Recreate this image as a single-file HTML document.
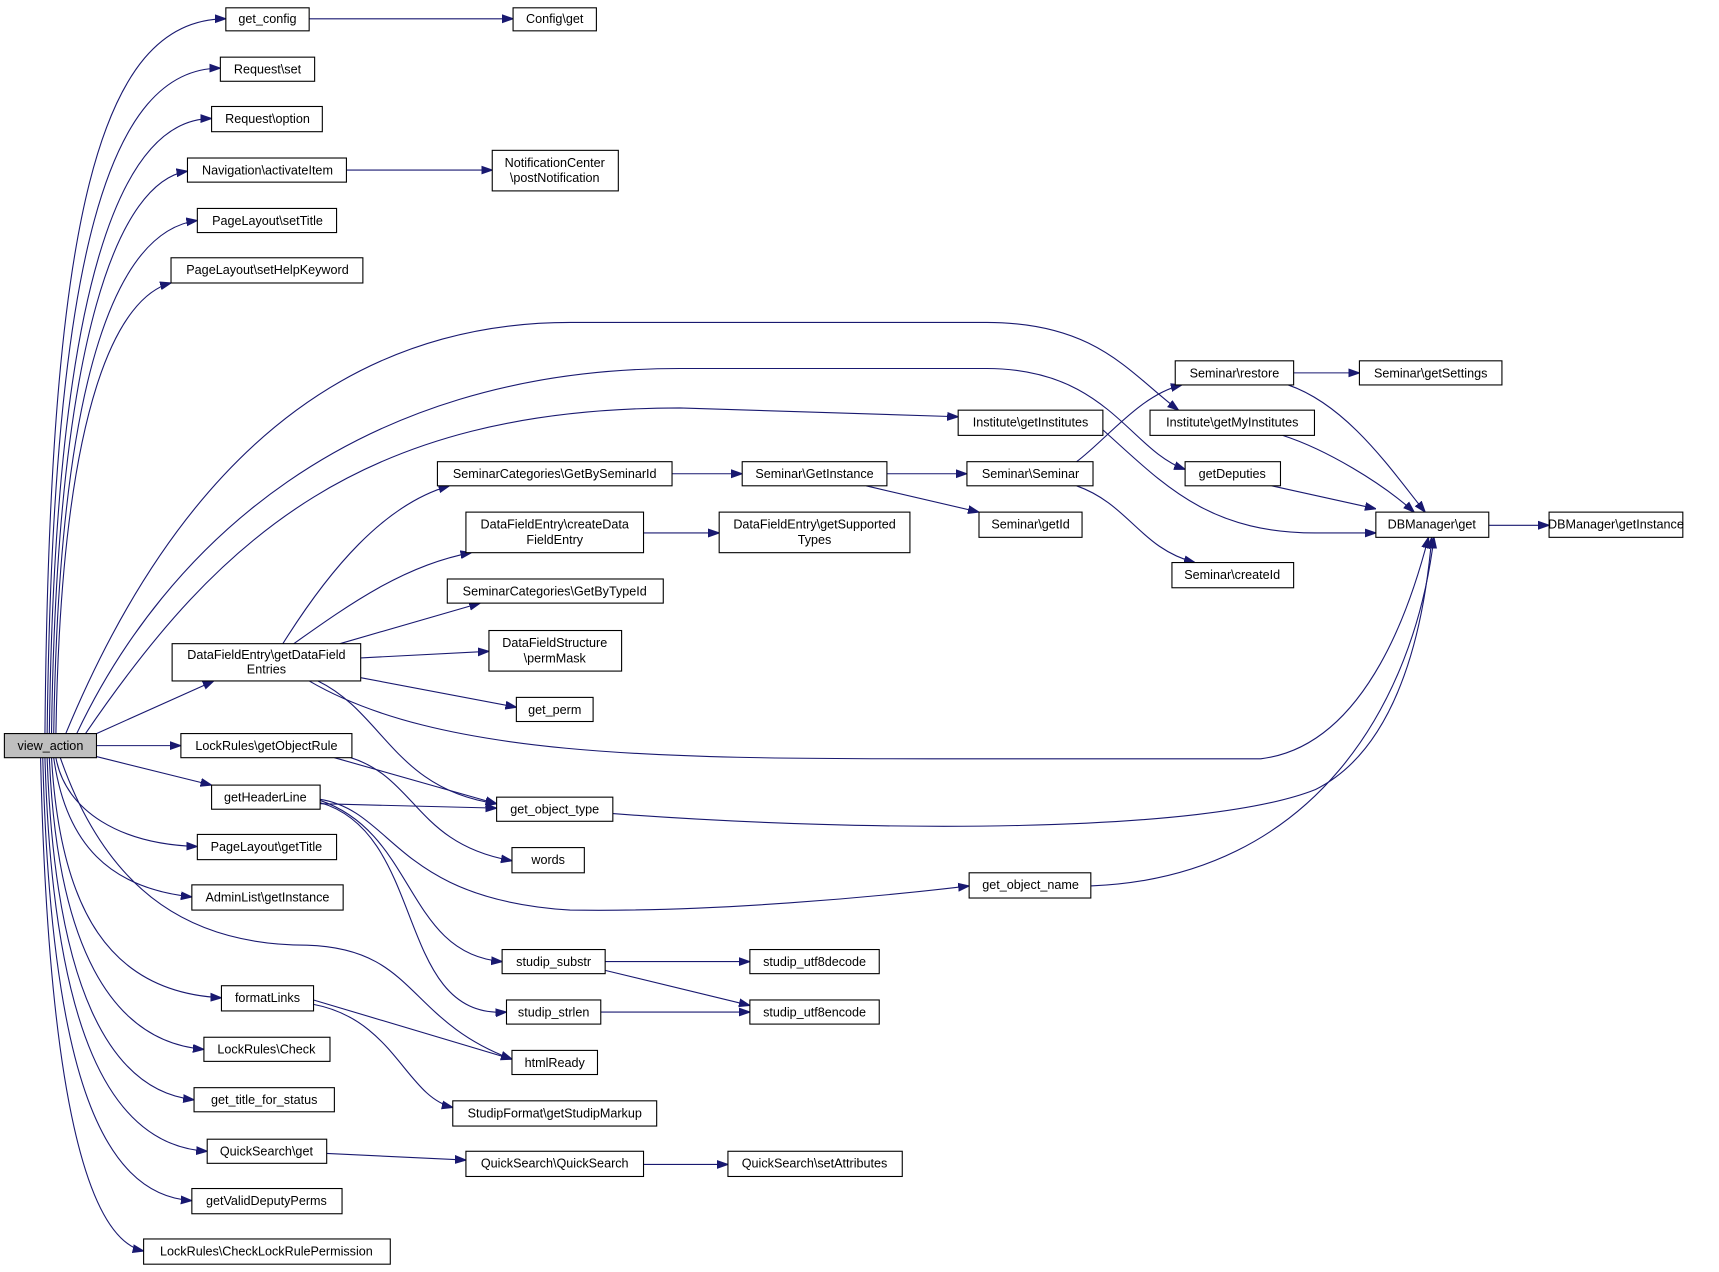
<!DOCTYPE html>
<html><head><meta charset="utf-8"><style>
html,body{margin:0;padding:0;background:#fff;}
svg{display:block;}
text{font-family:"Liberation Sans",sans-serif;font-size:11.5px;fill:#000;}
.n{fill:#fff;stroke:#000;stroke-width:1;}
.e{fill:none;stroke:#191970;stroke-width:1;marker-end:url(#a);}
</style></head><body>
<svg width="1719" height="1272" viewBox="0 0 1568 1160" xmlns="http://www.w3.org/2000/svg">
<defs><marker id="a" viewBox="0 0 10 10" refX="10" refY="5" markerWidth="10" markerHeight="10" markerUnits="userSpaceOnUse" orient="auto"><path d="M0,1.5 L10,5 L0,8.5 z" fill="#191970" stroke="#191970"/></marker></defs>
<g>
<path class="e" d="M41,669 C45,200 90,17 206,17"/>
<path class="e" d="M43,669 C48,230 100,62 201,62"/>
<path class="e" d="M45,669 C50,260 110,108 193,108"/>
<path class="e" d="M47,669 C52,300 110,165 171,156"/>
<path class="e" d="M49,669 C54,330 110,210 180,201"/>
<path class="e" d="M51,669 C56,360 110,270 156,258"/>
<path class="e" d="M60,669 C130,500 260,294 520,294 L900,294 C1000,294 1030,340 1075,374"/>
<path class="e" d="M70,669 C150,500 320,336 620,336 L900,336 C1010,336 1030,410 1081,428"/>
<path class="e" d="M78,669 C200,490 330,372 620,372 L874,380"/>
<path class="e" d="M88,669 L195,621"/>
<path class="e" d="M88,680 L165,680"/>
<path class="e" d="M88,690 L193,716"/>
<path class="e" d="M51,691 C60,740 110,770 180,772"/>
<path class="e" d="M49,691 C60,770 100,810 175,818"/>
<path class="e" d="M55,691 C100,820 180,862 280,862 C380,865 370,930 467,966"/>
<path class="e" d="M47,691 C55,830 100,905 202,910"/>
<path class="e" d="M45,691 C52,860 100,950 186,957"/>
<path class="e" d="M43,691 C50,900 100,995 177,1003"/>
<path class="e" d="M41,691 C48,940 100,1045 189,1050"/>
<path class="e" d="M39,691 C46,970 90,1090 175,1095"/>
<path class="e" d="M37,691 C44,1000 80,1130 131,1141"/>
<path class="e" d="M282,17 L468,17"/>
<path class="e" d="M316,155 L449,155"/>
<path class="e" d="M258,587 C300,520 350,460 410,443"/>
<path class="e" d="M268,587 C320,550 370,515 430,504"/>
<path class="e" d="M310,587 L438,550"/>
<path class="e" d="M329,600 L446,594"/>
<path class="e" d="M329,618 L471,645"/>
<path class="e" d="M290,621 C350,650 360,720 453,733"/>
<path class="e" d="M282,621 C400,690 600,692 850,692 L1150,692 C1250,680 1290,540 1303,490"/>
<path class="e" d="M305,691 L453,733"/>
<path class="e" d="M320,691 C380,710 380,770 467,785"/>
<path class="e" d="M292,733 L453,737"/>
<path class="e" d="M292,729 C360,740 360,820 520,830 C650,832 800,818 884,808"/>
<path class="e" d="M292,730 C380,760 370,870 458,877"/>
<path class="e" d="M292,732 C390,760 360,930 462,923"/>
<path class="e" d="M559,742 C800,760 1100,760 1200,720 C1280,680 1300,560 1306,490"/>
<path class="e" d="M995,808 C1200,800 1290,640 1308,490"/>
<path class="e" d="M286,912 L467,966"/>
<path class="e" d="M286,916 C360,930 370,1000 413,1010"/>
<path class="e" d="M298,1052 L425,1058"/>
<path class="e" d="M587,1062 L664,1062"/>
<path class="e" d="M613,432 L677,432"/>
<path class="e" d="M809,432 L882,432"/>
<path class="e" d="M790,443 L893,467"/>
<path class="e" d="M982,421 C1010,400 1040,360 1078,351"/>
<path class="e" d="M982,443 C1030,460 1040,500 1090,513"/>
<path class="e" d="M587,486 L656,486"/>
<path class="e" d="M1180,340 L1240,340"/>
<path class="e" d="M1175,351 C1230,370 1270,430 1300,467"/>
<path class="e" d="M1170,397 C1210,410 1260,440 1290,467"/>
<path class="e" d="M1160,443 L1255,464"/>
<path class="e" d="M1006,392 C1060,440 1100,486 1200,486 L1255,486"/>
<path class="e" d="M1358,479 L1413,479"/>
<path class="e" d="M552,885 L684,917"/>
<path class="e" d="M552,877 L684,877"/>
<path class="e" d="M548,923 L684,923"/>
</g>
<g>
<rect x="4" y="669" width="84" height="22" fill="#bfbfbf" stroke="#000"/><text x="46" y="684" text-anchor="middle">view_action</text>
<rect class="n" x="206" y="7" width="76" height="21"/><text x="244" y="21" text-anchor="middle">get_config</text>
<rect class="n" x="468" y="7" width="76" height="21"/><text x="506" y="21" text-anchor="middle">Config\get</text>
<rect class="n" x="201" y="52" width="86" height="22"/><text x="244" y="67" text-anchor="middle">Request\set</text>
<rect class="n" x="193" y="97" width="101" height="23"/><text x="244" y="112" text-anchor="middle">Request\option</text>
<rect class="n" x="171" y="144" width="145" height="22"/><text x="244" y="159" text-anchor="middle">Navigation\activateItem</text>
<rect class="n" x="449" y="137" width="115" height="37"/><text x="506" y="152" text-anchor="middle">NotificationCenter</text><text x="506" y="166" text-anchor="middle">\postNotification</text>
<rect class="n" x="180" y="190" width="127" height="22"/><text x="244" y="205" text-anchor="middle">PageLayout\setTitle</text>
<rect class="n" x="156" y="235" width="175" height="23"/><text x="244" y="250" text-anchor="middle">PageLayout\setHelpKeyword</text>
<rect class="n" x="1072" y="329" width="108" height="22"/><text x="1126" y="344" text-anchor="middle">Seminar\restore</text>
<rect class="n" x="1240" y="329" width="130" height="22"/><text x="1305" y="344" text-anchor="middle">Seminar\getSettings</text>
<rect class="n" x="874" y="374" width="132" height="23"/><text x="940" y="389" text-anchor="middle">Institute\getInstitutes</text>
<rect class="n" x="1049" y="374" width="150" height="23"/><text x="1124" y="389" text-anchor="middle">Institute\getMyInstitutes</text>
<rect class="n" x="399" y="421" width="214" height="22"/><text x="506" y="436" text-anchor="middle">SeminarCategories\GetBySeminarId</text>
<rect class="n" x="677" y="421" width="132" height="22"/><text x="743" y="436" text-anchor="middle">Seminar\GetInstance</text>
<rect class="n" x="882" y="421" width="115" height="22"/><text x="940" y="436" text-anchor="middle">Seminar\Seminar</text>
<rect class="n" x="1081" y="421" width="87" height="22"/><text x="1124" y="436" text-anchor="middle">getDeputies</text>
<rect class="n" x="425" y="467" width="162" height="37"/><text x="506" y="482" text-anchor="middle">DataFieldEntry\createData</text><text x="506" y="496" text-anchor="middle">FieldEntry</text>
<rect class="n" x="656" y="467" width="174" height="37"/><text x="743" y="482" text-anchor="middle">DataFieldEntry\getSupported</text><text x="743" y="496" text-anchor="middle">Types</text>
<rect class="n" x="893" y="467" width="94" height="23"/><text x="940" y="482" text-anchor="middle">Seminar\getId</text>
<rect class="n" x="1255" y="467" width="103" height="23"/><text x="1306" y="482" text-anchor="middle">DBManager\get</text>
<rect class="n" x="1413" y="467" width="122" height="23"/><text x="1474" y="482" text-anchor="middle">DBManager\getInstance</text>
<rect class="n" x="1069" y="513" width="111" height="23"/><text x="1124" y="528" text-anchor="middle">Seminar\createId</text>
<rect class="n" x="408" y="528" width="197" height="22"/><text x="506" y="543" text-anchor="middle">SeminarCategories\GetByTypeId</text>
<rect class="n" x="157" y="587" width="172" height="34"/><text x="243" y="601" text-anchor="middle">DataFieldEntry\getDataField</text><text x="243" y="614" text-anchor="middle">Entries</text>
<rect class="n" x="446" y="575" width="121" height="37"/><text x="506" y="590" text-anchor="middle">DataFieldStructure</text><text x="506" y="604" text-anchor="middle">\permMask</text>
<rect class="n" x="471" y="636" width="70" height="22"/><text x="506" y="651" text-anchor="middle">get_perm</text>
<rect class="n" x="165" y="669" width="156" height="22"/><text x="243" y="684" text-anchor="middle">LockRules\getObjectRule</text>
<rect class="n" x="193" y="716" width="99" height="22"/><text x="242" y="731" text-anchor="middle">getHeaderLine</text>
<rect class="n" x="453" y="727" width="106" height="22"/><text x="506" y="742" text-anchor="middle">get_object_type</text>
<rect class="n" x="467" y="773" width="66" height="23"/><text x="500" y="788" text-anchor="middle">words</text>
<rect class="n" x="180" y="761" width="127" height="23"/><text x="243" y="776" text-anchor="middle">PageLayout\getTitle</text>
<rect class="n" x="175" y="807" width="138" height="23"/><text x="244" y="822" text-anchor="middle">AdminList\getInstance</text>
<rect class="n" x="884" y="796" width="111" height="23"/><text x="940" y="811" text-anchor="middle">get_object_name</text>
<rect class="n" x="458" y="866" width="94" height="22"/><text x="505" y="881" text-anchor="middle">studip_substr</text>
<rect class="n" x="684" y="866" width="118" height="22"/><text x="743" y="881" text-anchor="middle">studip_utf8decode</text>
<rect class="n" x="202" y="899" width="84" height="23"/><text x="244" y="914" text-anchor="middle">formatLinks</text>
<rect class="n" x="462" y="912" width="86" height="22"/><text x="505" y="927" text-anchor="middle">studip_strlen</text>
<rect class="n" x="684" y="912" width="118" height="22"/><text x="743" y="927" text-anchor="middle">studip_utf8encode</text>
<rect class="n" x="186" y="946" width="115" height="22"/><text x="243" y="961" text-anchor="middle">LockRules\Check</text>
<rect class="n" x="467" y="958" width="78" height="22"/><text x="506" y="973" text-anchor="middle">htmlReady</text>
<rect class="n" x="177" y="992" width="128" height="22"/><text x="241" y="1007" text-anchor="middle">get_title_for_status</text>
<rect class="n" x="413" y="1004" width="186" height="23"/><text x="506" y="1019" text-anchor="middle">StudipFormat\getStudipMarkup</text>
<rect class="n" x="189" y="1039" width="109" height="22"/><text x="243" y="1054" text-anchor="middle">QuickSearch\get</text>
<rect class="n" x="425" y="1050" width="162" height="23"/><text x="506" y="1065" text-anchor="middle">QuickSearch\QuickSearch</text>
<rect class="n" x="664" y="1050" width="159" height="23"/><text x="743" y="1065" text-anchor="middle">QuickSearch\setAttributes</text>
<rect class="n" x="175" y="1084" width="137" height="23"/><text x="243" y="1099" text-anchor="middle">getValidDeputyPerms</text>
<rect class="n" x="131" y="1130" width="225" height="23"/><text x="243" y="1145" text-anchor="middle">LockRules\CheckLockRulePermission</text>
</g>
</svg>
</body></html>
